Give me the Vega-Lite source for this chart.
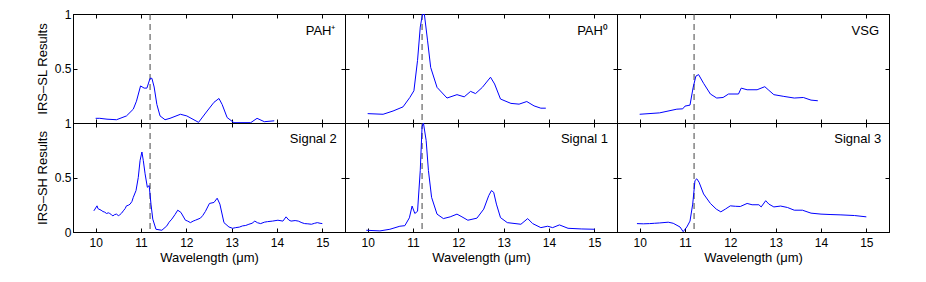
{
  "$schema": "https://vega.github.io/schema/vega-lite/v6.json",
  "padding": {"left": 35, "top": 7, "right": 5, "bottom": 5},
  "background": "white",
  "datasets": {
    "pahp": [
      {"wl":10.0,"val":0.043},{"wl":10.09,"val":0.043},{"wl":10.25,"val":0.035},{"wl":10.46,"val":0.03},{"wl":10.68,"val":0.065},{"wl":10.83,"val":0.127},{"wl":10.9,"val":0.2},{"wl":10.99,"val":0.34},{"wl":11.07,"val":0.32},{"wl":11.13,"val":0.32},{"wl":11.2,"val":0.41},{"wl":11.24,"val":0.41},{"wl":11.29,"val":0.33},{"wl":11.35,"val":0.17},{"wl":11.42,"val":0.065},{"wl":11.53,"val":0.03},{"wl":11.64,"val":0.043},{"wl":11.87,"val":0.08},{"wl":12.01,"val":0.065},{"wl":12.27,"val":0.006},{"wl":12.46,"val":0.11},{"wl":12.61,"val":0.19},{"wl":12.72,"val":0.225},{"wl":12.79,"val":0.17},{"wl":12.9,"val":0.05},{"wl":13.05,"val":0.003},{"wl":13.42,"val":0.003},{"wl":13.56,"val":0.043},{"wl":13.72,"val":0.012},{"wl":13.94,"val":0.02}
    ],
    "pah0": [
      {"wl":10.0,"val":0.086},{"wl":10.34,"val":0.08},{"wl":10.56,"val":0.11},{"wl":10.78,"val":0.148},{"wl":10.93,"val":0.234},{"wl":11.02,"val":0.296},{"wl":11.1,"val":0.574},{"wl":11.16,"val":0.88},{"wl":11.21,"val":1.0},{"wl":11.25,"val":1.0},{"wl":11.32,"val":0.76},{"wl":11.39,"val":0.51},{"wl":11.53,"val":0.327},{"wl":11.75,"val":0.229},{"wl":11.97,"val":0.26},{"wl":12.13,"val":0.24},{"wl":12.27,"val":0.29},{"wl":12.38,"val":0.27},{"wl":12.53,"val":0.327},{"wl":12.71,"val":0.42},{"wl":12.8,"val":0.358},{"wl":12.93,"val":0.22},{"wl":13.16,"val":0.18},{"wl":13.34,"val":0.173},{"wl":13.51,"val":0.197},{"wl":13.67,"val":0.157},{"wl":13.82,"val":0.136},{"wl":13.93,"val":0.136}
    ],
    "vsg": [
      {"wl":10.0,"val":0.08},{"wl":10.44,"val":0.093},{"wl":10.82,"val":0.127},{"wl":10.95,"val":0.13},{"wl":11.0,"val":0.155},{"wl":11.11,"val":0.164},{"wl":11.18,"val":0.327},{"wl":11.24,"val":0.43},{"wl":11.3,"val":0.444},{"wl":11.41,"val":0.364},{"wl":11.56,"val":0.266},{"wl":11.7,"val":0.229},{"wl":11.84,"val":0.234},{"wl":11.96,"val":0.266},{"wl":12.18,"val":0.266},{"wl":12.24,"val":0.32},{"wl":12.37,"val":0.305},{"wl":12.59,"val":0.305},{"wl":12.76,"val":0.333},{"wl":12.85,"val":0.3},{"wl":12.96,"val":0.26},{"wl":13.18,"val":0.244},{"wl":13.41,"val":0.229},{"wl":13.61,"val":0.234},{"wl":13.78,"val":0.21},{"wl":13.93,"val":0.204}
    ],
    "s2": [
      {"wl":9.96,"val":0.194},{"wl":10.03,"val":0.24},{"wl":10.05,"val":0.215},{"wl":10.07,"val":0.21},{"wl":10.12,"val":0.2},{"wl":10.16,"val":0.188},{"wl":10.2,"val":0.182},{"wl":10.24,"val":0.17},{"wl":10.28,"val":0.176},{"wl":10.31,"val":0.17},{"wl":10.35,"val":0.158},{"wl":10.38,"val":0.148},{"wl":10.42,"val":0.16},{"wl":10.46,"val":0.164},{"wl":10.5,"val":0.15},{"wl":10.53,"val":0.157},{"wl":10.57,"val":0.172},{"wl":10.61,"val":0.194},{"wl":10.65,"val":0.215},{"wl":10.68,"val":0.24},{"wl":10.72,"val":0.245},{"wl":10.76,"val":0.256},{"wl":10.8,"val":0.28},{"wl":10.83,"val":0.318},{"wl":10.89,"val":0.38},{"wl":10.94,"val":0.5},{"wl":10.98,"val":0.657},{"wl":11.02,"val":0.734},{"wl":11.05,"val":0.657},{"wl":11.09,"val":0.534},{"wl":11.14,"val":0.41},{"wl":11.18,"val":0.426},{"wl":11.22,"val":0.256},{"wl":11.26,"val":0.118},{"wl":11.33,"val":0.025},{"wl":11.46,"val":0.016},{"wl":11.57,"val":0.056},{"wl":11.62,"val":0.09},{"wl":11.68,"val":0.118},{"wl":11.75,"val":0.16},{"wl":11.81,"val":0.2},{"wl":11.88,"val":0.18},{"wl":11.98,"val":0.108},{"wl":12.03,"val":0.1},{"wl":12.09,"val":0.086},{"wl":12.15,"val":0.1},{"wl":12.2,"val":0.108},{"wl":12.31,"val":0.127},{"wl":12.36,"val":0.15},{"wl":12.42,"val":0.188},{"wl":12.51,"val":0.262},{"wl":12.61,"val":0.271},{"wl":12.68,"val":0.31},{"wl":12.74,"val":0.256},{"wl":12.83,"val":0.086},{"wl":12.94,"val":0.046},{"wl":13.02,"val":0.034},{"wl":13.09,"val":0.04},{"wl":13.17,"val":0.045},{"wl":13.24,"val":0.056},{"wl":13.31,"val":0.06},{"wl":13.38,"val":0.071},{"wl":13.45,"val":0.08},{"wl":13.51,"val":0.1},{"wl":13.57,"val":0.085},{"wl":13.64,"val":0.077},{"wl":13.72,"val":0.09},{"wl":13.79,"val":0.095},{"wl":13.9,"val":0.1},{"wl":14.02,"val":0.108},{"wl":14.13,"val":0.1},{"wl":14.2,"val":0.139},{"wl":14.26,"val":0.11},{"wl":14.31,"val":0.1},{"wl":14.4,"val":0.105},{"wl":14.47,"val":0.1},{"wl":14.55,"val":0.085},{"wl":14.61,"val":0.077},{"wl":14.68,"val":0.075},{"wl":14.76,"val":0.071},{"wl":14.83,"val":0.08},{"wl":14.89,"val":0.086},{"wl":14.95,"val":0.08},{"wl":15.0,"val":0.077}
    ],
    "s1": [
      {"wl":9.97,"val":0.016},{"wl":10.27,"val":0.01},{"wl":10.49,"val":0.025},{"wl":10.71,"val":0.053},{"wl":10.82,"val":0.058},{"wl":10.92,"val":0.13},{"wl":10.98,"val":0.238},{"wl":11.04,"val":0.17},{"wl":11.1,"val":0.19},{"wl":11.16,"val":0.565},{"wl":11.2,"val":0.966},{"wl":11.23,"val":1.0},{"wl":11.29,"val":0.84},{"wl":11.34,"val":0.565},{"wl":11.41,"val":0.318},{"wl":11.53,"val":0.164},{"wl":11.67,"val":0.123},{"wl":11.82,"val":0.139},{"wl":11.97,"val":0.164},{"wl":12.08,"val":0.139},{"wl":12.21,"val":0.108},{"wl":12.41,"val":0.127},{"wl":12.56,"val":0.21},{"wl":12.67,"val":0.333},{"wl":12.73,"val":0.38},{"wl":12.78,"val":0.364},{"wl":12.84,"val":0.256},{"wl":12.93,"val":0.132},{"wl":13.08,"val":0.086},{"wl":13.38,"val":0.071},{"wl":13.53,"val":0.123},{"wl":13.64,"val":0.077},{"wl":13.82,"val":0.04},{"wl":13.97,"val":0.053},{"wl":14.08,"val":0.04},{"wl":14.23,"val":0.065},{"wl":14.42,"val":0.034},{"wl":14.71,"val":0.028},{"wl":15.01,"val":0.025}
    ],
    "s3": [
      {"wl":9.94,"val":0.077},{"wl":10.08,"val":0.075},{"wl":10.22,"val":0.077},{"wl":10.33,"val":0.08},{"wl":10.44,"val":0.083},{"wl":10.63,"val":0.09},{"wl":10.74,"val":0.08},{"wl":10.89,"val":0.046},{"wl":10.96,"val":0.003},{"wl":11.04,"val":0.046},{"wl":11.11,"val":0.1},{"wl":11.17,"val":0.256},{"wl":11.22,"val":0.472},{"wl":11.26,"val":0.488},{"wl":11.31,"val":0.457},{"wl":11.41,"val":0.349},{"wl":11.56,"val":0.262},{"wl":11.69,"val":0.21},{"wl":11.79,"val":0.185},{"wl":11.89,"val":0.21},{"wl":12.0,"val":0.24},{"wl":12.11,"val":0.236},{"wl":12.22,"val":0.234},{"wl":12.37,"val":0.262},{"wl":12.48,"val":0.25},{"wl":12.63,"val":0.25},{"wl":12.68,"val":0.23},{"wl":12.78,"val":0.287},{"wl":12.85,"val":0.256},{"wl":12.96,"val":0.23},{"wl":13.11,"val":0.238},{"wl":13.26,"val":0.225},{"wl":13.41,"val":0.2},{"wl":13.59,"val":0.2},{"wl":13.78,"val":0.173},{"wl":14.0,"val":0.164},{"wl":14.22,"val":0.16},{"wl":14.44,"val":0.157},{"wl":14.74,"val":0.151},{"wl":15.0,"val":0.139}
    ]
  },
  "spacing": 0,
  "bounds": "flush",
  "columns": 3,
  "concat": [
    {
      "width": 272, "height": 109,
      "layer": [
        {"data": {"values": [{"wl": 11.2}]}, "mark": {"type": "rule", "color": "#444", "strokeDash": [6, 4], "strokeWidth": 1},
         "encoding": {"x": {"field": "wl", "type": "quantitative", "scale": {"domain": [9.5, 15.5], "nice": false, "zero": false}, "axis": {"orient": "top", "values": [10, 11, 12, 13, 14, 15], "labels": false, "title": null}}}},
        {"data": {"name": "pahp"}, "mark": {"type": "line", "color": "#0000ff", "strokeWidth": 1, "clip": true},
         "encoding": {
           "x": {"field": "wl", "type": "quantitative", "scale": {"domain": [9.5, 15.5], "nice": false, "zero": false}, "axis": {"orient": "bottom", "values": [10, 11, 12, 13, 14, 15], "labels": false, "title": null}},
           "y": {"field": "val", "type": "quantitative", "scale": {"domain": [0, 1], "nice": false}, "axis": {"orient": "left", "values": [0.5, 1], "format": "~g", "title": "IRS–SL Results"}}}},
        {"data": {"values": [{"label": "PAH⁺"}]}, "mark": {"type": "text", "align": "right", "baseline": "middle"},
         "encoding": {"text": {"field": "label"}, "x": {"datum": 15.29, "type": "quantitative", "axis": null},
           "y": {"datum": 0.84, "type": "quantitative", "axis": {"orient": "right", "values": [0.5], "labels": false, "title": null}}}}
      ],
      "resolve": {"axis": {"x": "independent", "y": "independent"}}
    },
    {
      "width": 272, "height": 109,
      "layer": [
        {"data": {"values": [{"wl": 11.2}]}, "mark": {"type": "rule", "color": "#444", "strokeDash": [6, 4], "strokeWidth": 1},
         "encoding": {"x": {"field": "wl", "type": "quantitative", "scale": {"domain": [9.5, 15.5], "nice": false, "zero": false}, "axis": {"orient": "top", "values": [10, 11, 12, 13, 14, 15], "labels": false, "title": null}}}},
        {"data": {"name": "pah0"}, "mark": {"type": "line", "color": "#0000ff", "strokeWidth": 1, "clip": true},
         "encoding": {
           "x": {"field": "wl", "type": "quantitative", "scale": {"domain": [9.5, 15.5], "nice": false, "zero": false}, "axis": {"orient": "bottom", "values": [10, 11, 12, 13, 14, 15], "labels": false, "title": null}},
           "y": {"field": "val", "type": "quantitative", "scale": {"domain": [0, 1], "nice": false}, "axis": {"orient": "left", "values": [0.5], "labels": false, "title": null}}}},
        {"data": {"values": [{"label": "PAH⁰"}]}, "mark": {"type": "text", "align": "right", "baseline": "middle"},
         "encoding": {"text": {"field": "label"}, "x": {"datum": 15.3, "type": "quantitative", "axis": null},
           "y": {"datum": 0.84, "type": "quantitative", "axis": {"orient": "right", "values": [0.5], "labels": false, "title": null}}}}
      ],
      "resolve": {"axis": {"x": "independent", "y": "independent"}}
    },
    {
      "width": 272, "height": 109,
      "layer": [
        {"data": {"values": [{"wl": 11.2}]}, "mark": {"type": "rule", "color": "#444", "strokeDash": [6, 4], "strokeWidth": 1},
         "encoding": {"x": {"field": "wl", "type": "quantitative", "scale": {"domain": [9.5, 15.5], "nice": false, "zero": false}, "axis": {"orient": "top", "values": [10, 11, 12, 13, 14, 15], "labels": false, "title": null}}}},
        {"data": {"name": "vsg"}, "mark": {"type": "line", "color": "#0000ff", "strokeWidth": 1, "clip": true},
         "encoding": {
           "x": {"field": "wl", "type": "quantitative", "scale": {"domain": [9.5, 15.5], "nice": false, "zero": false}, "axis": {"orient": "bottom", "values": [10, 11, 12, 13, 14, 15], "labels": false, "title": null}},
           "y": {"field": "val", "type": "quantitative", "scale": {"domain": [0, 1], "nice": false}, "axis": {"orient": "left", "values": [0.5], "labels": false, "title": null}}}},
        {"data": {"values": [{"label": "VSG"}]}, "mark": {"type": "text", "align": "right", "baseline": "middle"},
         "encoding": {"text": {"field": "label"}, "x": {"datum": 15.28, "type": "quantitative", "axis": null},
           "y": {"datum": 0.84, "type": "quantitative", "axis": {"orient": "right", "values": [0.5], "labels": false, "title": null}}}}
      ],
      "resolve": {"axis": {"x": "independent", "y": "independent"}}
    },
    {
      "width": 272, "height": 109,
      "layer": [
        {"data": {"values": [{"wl": 11.2}]}, "mark": {"type": "rule", "color": "#444", "strokeDash": [6, 4], "strokeWidth": 1},
         "encoding": {"x": {"field": "wl", "type": "quantitative", "scale": {"domain": [9.5, 15.5], "nice": false, "zero": false}, "axis": {"orient": "top", "values": [10, 11, 12, 13, 14, 15], "labels": false, "title": null}}}},
        {"data": {"name": "s2"}, "mark": {"type": "line", "color": "#0000ff", "strokeWidth": 1, "clip": true},
         "encoding": {
           "x": {"field": "wl", "type": "quantitative", "scale": {"domain": [9.5, 15.5], "nice": false, "zero": false}, "axis": {"orient": "bottom", "values": [10, 11, 12, 13, 14, 15], "format": "~g", "title": "Wavelength (μm)"}},
           "y": {"field": "val", "type": "quantitative", "scale": {"domain": [0, 1], "nice": false}, "axis": {"orient": "left", "values": [0, 0.5, 1], "format": "~g", "title": "IRS–SH Results"}}}},
        {"data": {"values": [{"label": "Signal 2"}]}, "mark": {"type": "text", "align": "right", "baseline": "middle"},
         "encoding": {"text": {"field": "label"}, "x": {"datum": 15.32, "type": "quantitative", "axis": null},
           "y": {"datum": 0.85, "type": "quantitative", "axis": {"orient": "right", "values": [0.5], "labels": false, "title": null}}}}
      ],
      "resolve": {"axis": {"x": "independent", "y": "independent"}}
    },
    {
      "width": 272, "height": 109,
      "layer": [
        {"data": {"values": [{"wl": 11.2}]}, "mark": {"type": "rule", "color": "#444", "strokeDash": [6, 4], "strokeWidth": 1},
         "encoding": {"x": {"field": "wl", "type": "quantitative", "scale": {"domain": [9.5, 15.5], "nice": false, "zero": false}, "axis": {"orient": "top", "values": [10, 11, 12, 13, 14, 15], "labels": false, "title": null}}}},
        {"data": {"name": "s1"}, "mark": {"type": "line", "color": "#0000ff", "strokeWidth": 1, "clip": true},
         "encoding": {
           "x": {"field": "wl", "type": "quantitative", "scale": {"domain": [9.5, 15.5], "nice": false, "zero": false}, "axis": {"orient": "bottom", "values": [10, 11, 12, 13, 14, 15], "format": "~g", "title": "Wavelength (μm)"}},
           "y": {"field": "val", "type": "quantitative", "scale": {"domain": [0, 1], "nice": false}, "axis": {"orient": "left", "values": [0.5], "labels": false, "title": null}}}},
        {"data": {"values": [{"label": "Signal 1"}]}, "mark": {"type": "text", "align": "right", "baseline": "middle"},
         "encoding": {"text": {"field": "label"}, "x": {"datum": 15.3, "type": "quantitative", "axis": null},
           "y": {"datum": 0.85, "type": "quantitative", "axis": {"orient": "right", "values": [0.5], "labels": false, "title": null}}}}
      ],
      "resolve": {"axis": {"x": "independent", "y": "independent"}}
    },
    {
      "width": 272, "height": 109,
      "layer": [
        {"data": {"values": [{"wl": 11.2}]}, "mark": {"type": "rule", "color": "#444", "strokeDash": [6, 4], "strokeWidth": 1},
         "encoding": {"x": {"field": "wl", "type": "quantitative", "scale": {"domain": [9.5, 15.5], "nice": false, "zero": false}, "axis": {"orient": "top", "values": [10, 11, 12, 13, 14, 15], "labels": false, "title": null}}}},
        {"data": {"name": "s3"}, "mark": {"type": "line", "color": "#0000ff", "strokeWidth": 1, "clip": true},
         "encoding": {
           "x": {"field": "wl", "type": "quantitative", "scale": {"domain": [9.5, 15.5], "nice": false, "zero": false}, "axis": {"orient": "bottom", "values": [10, 11, 12, 13, 14, 15], "format": "~g", "title": "Wavelength (μm)"}},
           "y": {"field": "val", "type": "quantitative", "scale": {"domain": [0, 1], "nice": false}, "axis": {"orient": "left", "values": [0.5], "labels": false, "title": null}}}},
        {"data": {"values": [{"label": "Signal 3"}]}, "mark": {"type": "text", "align": "right", "baseline": "middle"},
         "encoding": {"text": {"field": "label"}, "x": {"datum": 15.33, "type": "quantitative", "axis": null},
           "y": {"datum": 0.85, "type": "quantitative", "axis": {"orient": "right", "values": [0.5], "labels": false, "title": null}}}}
      ],
      "resolve": {"axis": {"x": "independent", "y": "independent"}}
    }
  ],
  "config": {
    "view": {"stroke": "black", "strokeWidth": 1},
    "concat": {"spacing": 0},
    "axis": {
      "grid": false, "domainColor": "black", "domainWidth": 1, "tickColor": "black", "tickSize": -4, "tickWidth": 1,
      "labelColor": "black", "titleColor": "black", "labelFont": "Liberation Sans", "titleFont": "Liberation Sans",
      "labelFontSize": 12, "titleFontSize": 13, "titleFontWeight": "normal", "labelFlush": false, "labelOverlap": false,
      "minExtent": 0
    },
    "axisX": {"labelPadding": 9, "titlePadding": 3},
    "axisY": {"labelPadding": 6, "titlePadding": 5},
    "text": {"font": "Liberation Sans", "fontSize": 13, "color": "black"}
  }
}
